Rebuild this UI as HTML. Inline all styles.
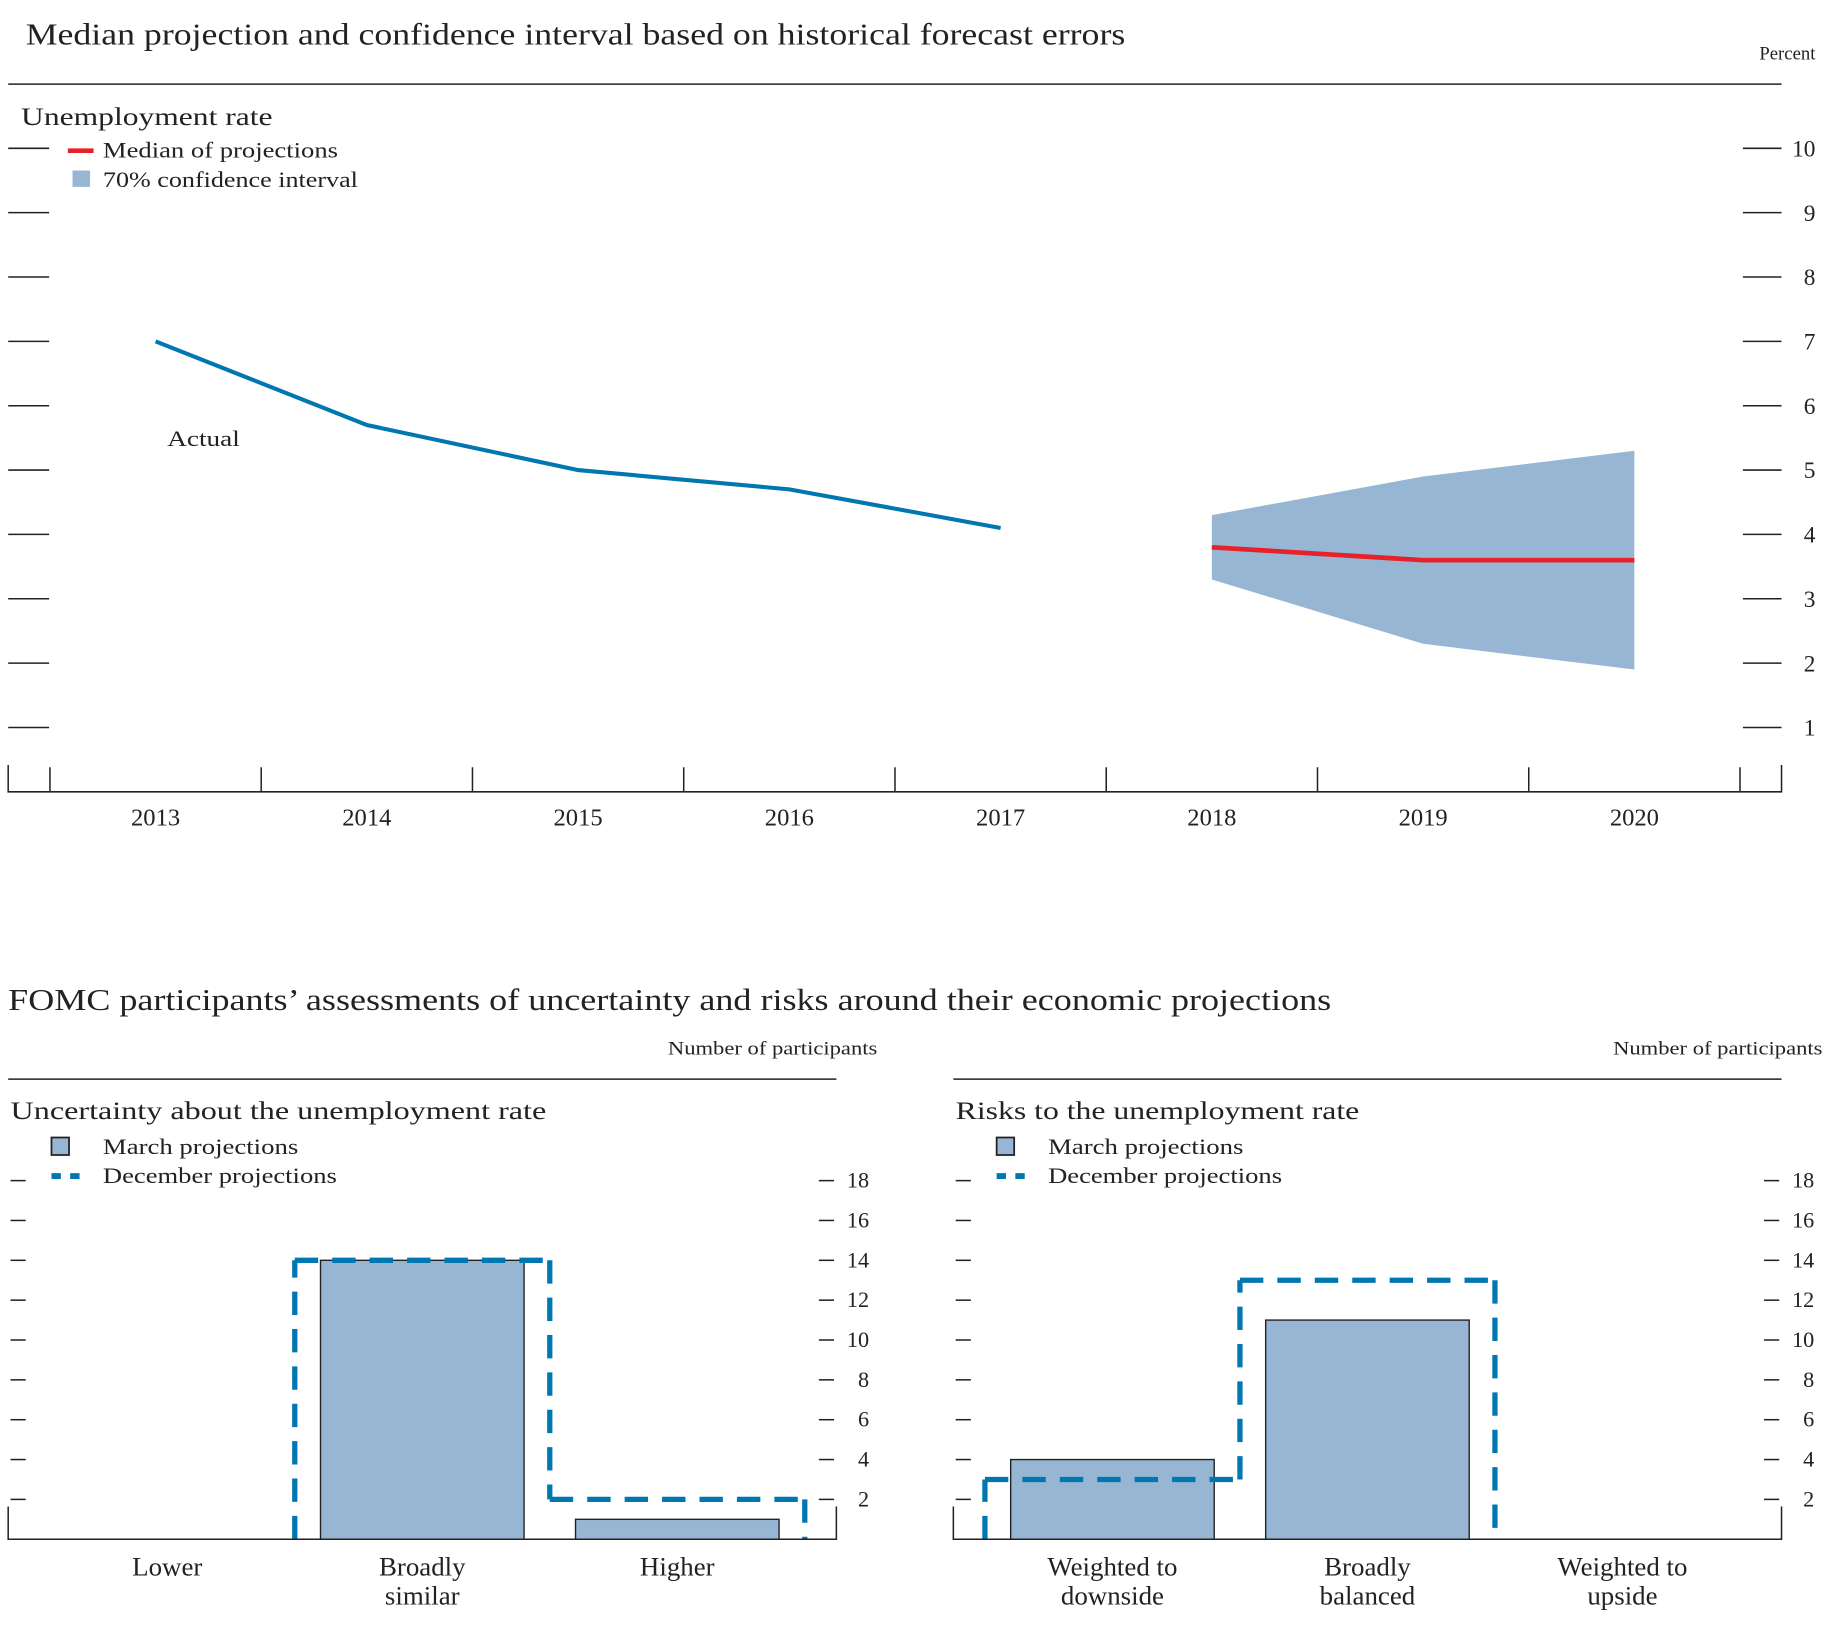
<!DOCTYPE html>
<html><head><meta charset="utf-8"><style>
html,body{margin:0;padding:0;background:#fff}
svg{display:block}
text{font-family:"Liberation Serif",serif;fill:#222}
</style></head><body>
<svg id="chart" width="1833" height="1628" viewBox="0 0 1567 1394" preserveAspectRatio="none" xmlns="http://www.w3.org/2000/svg">
<g id="top">
<text x="22" y="38" font-size="26" textLength="940" lengthAdjust="spacingAndGlyphs">Median projection and confidence interval based on historical forecast errors</text>
<text x="1552" y="51" font-size="16" text-anchor="end">Percent</text>
<line x1="7" y1="72" x2="1523" y2="72" stroke="#222" stroke-width="1.3"/>
<text x="18" y="107" font-size="22" textLength="215" lengthAdjust="spacingAndGlyphs">Unemployment rate</text>
<line x1="58" y1="129" x2="80" y2="129" stroke="#e8202a" stroke-width="4"/>
<text x="88" y="135" font-size="19" textLength="201" lengthAdjust="spacingAndGlyphs">Median of projections</text>
<rect x="62" y="146" width="15" height="14" fill="#96b6d4"/>
<text x="88" y="160" font-size="19" textLength="218" lengthAdjust="spacingAndGlyphs">70% confidence interval</text>
<g id="topAxes"></g>
<text x="143" y="382" font-size="19" textLength="62" lengthAdjust="spacingAndGlyphs">Actual</text>
</g>
<g id="bottom">
<text x="7" y="865" font-size="26" textLength="1131" lengthAdjust="spacingAndGlyphs">FOMC participants’ assessments of uncertainty and risks around their economic projections</text>
<g id="left"></g><g id="right"></g>
</g>
</svg>
<script>
// ---- Top chart data ----
const years = [2013, 2014, 2015, 2016, 2017, 2018, 2019, 2020];
const actualYears = [2013, 2014, 2015, 2016, 2017];
const actualValues = [7.0, 5.7, 5.0, 4.7, 4.1];
const projYears = [2018, 2019, 2020];
const medianValues = [3.8, 3.6, 3.6];
const ciUpper = [4.3, 4.9, 5.3];
const ciLower = [3.3, 2.3, 1.9];
const yTicks = [1, 2, 3, 4, 5, 6, 7, 8, 9, 10];
// ---- Bottom charts data ----
const uncCategories = [["Lower"], ["Broadly", "similar"], ["Higher"]];
const uncMarch = [0, 14, 1];
const uncDecember = [0, 14, 2];
const riskCategories = [["Weighted to", "downside"], ["Broadly", "balanced"], ["Weighted to", "upside"]];
const riskMarch = [4, 11, 0];
const riskDecember = [3, 13, 0];
const countTicks = [2, 4, 6, 8, 10, 12, 14, 16, 18];

const NS = "http://www.w3.org/2000/svg";
function mk(parent, tag, attrs) {
  const e = document.createElementNS(NS, tag);
  for (const k in attrs) e.setAttribute(k, attrs[k]);
  parent.appendChild(e);
  return e;
}
const xT = y => 133 + (y - 2013) * 180.6;
const yT = v => 127 + (10 - v) * 55.1;
const ta = document.getElementById("topAxes");
yTicks.forEach(v => {
  let l = mk(ta, "line", {x1: 7, x2: 42, y1: yT(v), y2: yT(v), stroke: "#222", "stroke-width": 1.3});
  
  
  let r = mk(ta, "line", {x1: 1490, x2: 1523, y1: yT(v), y2: yT(v), stroke: "#222", "stroke-width": 1.3});
  
  
  let t = mk(ta, "text", {x: 1552, y: yT(v) + 7, "font-size": 20, "text-anchor": "end"});
  t.textContent = v;
  
  
});
let ax = mk(ta, "path", {d: "M7 655V678H1523V655", fill: "none", stroke: "#222", "stroke-width": 1.3});


for (let i = 0; i <= years.length; i++) {
  const x = xT(2013) - 90.3 + i * 180.6;
  let l = mk(ta, "line", {x1: x, x2: x, y1: 657, y2: 678, stroke: "#222", "stroke-width": 1.3});
  
  
}
years.forEach(y => {
  let t = mk(ta, "text", {x: xT(y), y: 707, "font-size": 21, "text-anchor": "middle"});
  t.textContent = y;
  
  
});
let band = mk(ta, "polygon", {fill: "#96b6d4", points:
  projYears.map((y, i) => xT(y) + "," + yT(ciUpper[i])).concat(projYears.map((y, i) => xT(y) + "," + yT(ciLower[i])).reverse()).join(" ")});


let act = mk(ta, "polyline", {fill: "none", stroke: "#0077b0", "stroke-width": 3.5, points: actualYears.map((y, i) => xT(y) + "," + yT(actualValues[i])).join(" ")});


let med = mk(ta, "polyline", {fill: "none", stroke: "#e8202a", "stroke-width": 4, points: projYears.map((y, i) => xT(y) + "," + yT(medianValues[i])).join(" ")});



function panel(g, ox, title, titleLen, cats, march, dec) {
  const yB = v => 1318 - v * 17.06;
  const b0 = ox + 27, cw = 218;
  let t = mk(g, "text", {x: ox + 743, y: 903, "font-size": 16, "text-anchor": "end", textLength: 179, lengthAdjust: "spacingAndGlyphs"});
  t.textContent = "Number of participants";
  
  
  let r = mk(g, "line", {x1: ox, x2: ox + 708, y1: 924, y2: 924, stroke: "#222", "stroke-width": 1.3});
  
  
  let pt = mk(g, "text", {x: ox + 2, y: 958, "font-size": 22, textLength: titleLen, lengthAdjust: "spacingAndGlyphs"});
  pt.textContent = title;
  
  
  let sw = mk(g, "rect", {x: ox + 37, y: 974, width: 15, height: 15, fill: "#96b6d4", stroke: "#222", "stroke-width": 1.5});
  
  
  let lt = mk(g, "text", {x: ox + 81, y: 988, "font-size": 19, textLength: 167, lengthAdjust: "spacingAndGlyphs"});
  lt.textContent = "March projections";
  
  
  let dl = mk(g, "line", {x1: ox + 37, x2: ox + 61, y1: 1007, y2: 1007, stroke: "#0077b0", "stroke-width": 5, "stroke-dasharray": "8 8"});
  
  
  let dt = mk(g, "text", {x: ox + 81, y: 1013, "font-size": 19, textLength: 200, lengthAdjust: "spacingAndGlyphs"});
  dt.textContent = "December projections";
  
  
  countTicks.forEach(v => {
    let a = mk(g, "line", {x1: ox + 2, x2: ox + 15, y1: yB(v), y2: yB(v), stroke: "#222", "stroke-width": 1.3});
    
    
    let b = mk(g, "line", {x1: ox + 693, x2: ox + 706, y1: yB(v), y2: yB(v), stroke: "#222", "stroke-width": 1.3});
    
    
    let l = mk(g, "text", {x: ox + 736, y: yB(v) + 6, "font-size": 19, "text-anchor": "end"});
    l.textContent = v;
    
    
  });
  march.forEach((v, i) => {
    if (v <= 0) return;
    let bar = mk(g, "rect", {x: b0 + i * cw + 22, y: yB(v), width: 174, height: yB(0) - yB(v), fill: "#96b6d4", stroke: "#222", "stroke-width": 1.2});
    
    
  });
  let d = "";
  let prev = 0;
  dec.forEach((v, i) => {
    const x0 = b0 + i * cw, x1 = x0 + cw;
    if (v !== prev) d += " M" + x0 + " " + yB(prev) + " L" + x0 + " " + yB(v);
    if (v > 0) d += " M" + x0 + " " + yB(v) + " L" + x1 + " " + yB(v);
    prev = v;
  });
  if (prev > 0) { const xe = b0 + dec.length * cw; d += " M" + xe + " " + yB(prev) + " L" + xe + " " + yB(0); }
  let step = mk(g, "path", {d: d.trim(), fill: "none", stroke: "#0077b0", "stroke-width": 4.5, "stroke-dasharray": "20 12"});
  
  
  let axp = mk(g, "path", {d: `M${ox} 1290V1318H${ox + 708}V1290`, fill: "none", stroke: "#222", "stroke-width": 1.3});
  
  
  cats.forEach((c, i) => {
    c.forEach((line, j) => {
      let ct = mk(g, "text", {x: b0 + i * cw + cw / 2, y: 1349 + j * 25, "font-size": 23, "text-anchor": "middle"});
      ct.textContent = line;
      
      
    });
  });
}
panel(document.getElementById("left"), 7, "Uncertainty about the unemployment rate", 458, uncCategories, uncMarch, uncDecember);
panel(document.getElementById("right"), 815, "Risks to the unemployment rate", 345, riskCategories, riskMarch, riskDecember);
</script>
</body></html>
